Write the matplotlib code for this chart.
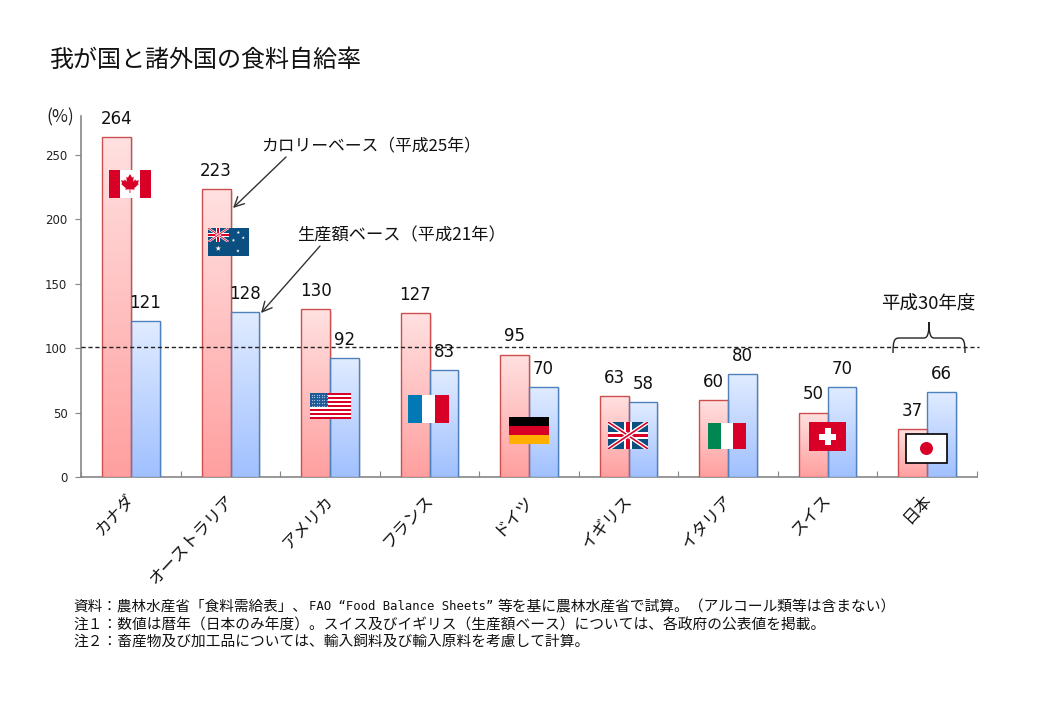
import numpy as np
import matplotlib
matplotlib.use('Agg')
import matplotlib.pyplot as plt
import matplotlib.patches as mpatches
import matplotlib.patheffects as pe
from matplotlib.colors import LinearSegmentedColormap
from matplotlib.path import Path
from matplotlib.transforms import ScaledTranslation

plt.rcParams['font.family'] = ['Noto Sans CJK JP', 'DejaVu Sans']

countries = ['カナダ', 'オーストラリア', 'アメリカ', 'フランス', 'ドイツ', 'イギリス', 'イタリア', 'スイス', '日本']
calorie = [264, 223, 130, 127, 95, 63, 60, 50, 37]
production = [121, 128, 92, 83, 70, 58, 80, 70, 66]
yticks = [0, 50, 100, 150, 200, 250]

title = '我が国と諸外国の食料自給率'
note1a = '資料：農林水産省「食料需給表」、'
note1b = 'FAO “Food Balance Sheets”'
note1c = '等を基に農林水産省で試算。（アルコール類等は含まない）'
note2 = '注１：数値は暦年（日本のみ年度）。スイス及びイギリス（生産額ベース）については、各政府の公表値を掲載。'
note3 = '注２：畜産物及び加工品については、輸入飼料及び輸入原料を考慮して計算。'

RED_EDGE = '#CC4F4D'
BLUE_EDGE = '#4F81BD'
AXIS_GREY = '#868686'
FLAG_RED = '#D80027'
FLAG_BLUE = '#0B4F80'

red_grad = LinearSegmentedColormap.from_list('r', ['#FFE1E1', '#FF9F9F'])
blue_grad = LinearSegmentedColormap.from_list('b', ['#E1ECFF', '#A0C0FF'])
grad = np.linspace(0, 1, 256).reshape(-1, 1)

fig = plt.figure(figsize=(10.4, 7.2), dpi=100)
ax = fig.add_axes([81.3 / 1040, (720 - 477) / 720, 895.5 / 1040, 361 / 720])

width = 0.29


def draw_bars(xs, values, edge, cmap):
    for x, v in zip(xs, values):
        base = ax.bar(x, v, width, facecolor='white', edgecolor='none', zorder=2)[0]
        base.set_path_effects([pe.SimplePatchShadow(offset=(1.5, -1), alpha=0.15, shadow_rgbFace='#555555'), pe.Normal()])
        im = ax.imshow(grad, extent=(x - width / 2, x + width / 2, 0, v), cmap=cmap,
                       aspect='auto', zorder=3, vmin=0, vmax=1, origin='upper')
        im.set_clip_path(base)
        ax.bar(x, v, width, fill=False, edgecolor=edge, linewidth=1.0, zorder=4)
        ax.annotate(str(v), (x, v), xytext=(0, 13), textcoords='offset points', family='DejaVu Sans',
                    ha='center', va='center', fontsize=12, color='#111111', zorder=6)


centers = np.arange(len(countries)) + 0.5
draw_bars(centers - width / 2, calorie, RED_EDGE, red_grad)
draw_bars(centers + width / 2, production, BLUE_EDGE, blue_grad)

ax.set_xlim(0, 9)
ax.set_ylim(0, 280)
ax.spines['top'].set_visible(False)
ax.spines['right'].set_visible(False)
ax.spines['left'].set_color(AXIS_GREY)
ax.spines['bottom'].set_color(AXIS_GREY)
ax.spines['left'].set_linewidth(1.2)
ax.spines['bottom'].set_linewidth(1.2)
ax.set_yticks(yticks)
ax.set_yticklabels([str(t) for t in yticks], family='DejaVu Sans')
ax.tick_params(axis='y', color=AXIS_GREY, length=4, labelsize=8.5, pad=6, labelcolor='#222222')
ax.set_xticks(np.arange(0, 10))
ax.tick_params(axis='x', which='major', direction='in', color=AXIS_GREY, length=4, labelbottom=False)
ax.set_xticks(centers, minor=True)
ax.set_xticklabels(countries, minor=True, rotation=47, ha='right', va='top', rotation_mode='anchor', fontsize=11.9, color='#111111')
ax.tick_params(axis='x', which='minor', length=0, pad=12)
for lab in ax.get_xticklabels(minor=True):
    lab.set_transform(lab.get_transform() + ScaledTranslation(-5 / 100, 2 / 100, fig.dpi_scale_trans))
ax.plot([0, 9.02], [100.5, 100.5], color='#222222', lw=1, ls=(0, (3, 2)), zorder=5, clip_on=False)

# everything else sits on an overlay in pixel coordinates
ov = fig.add_axes([0, 0, 1, 1], zorder=10)
ov.set_xlim(0, 1040)
ov.set_ylim(720, 0)
ov.axis('off')
ov.patch.set_alpha(0)

ov.text(50, 60, title, fontsize=17.3, va='center', ha='left', color='#111111')
ov.text(60, 117, '(%)', fontsize=12.5, va='center', ha='center', color='#222222')
ov.text(261, 146, 'カロリーベース（平成25年）', fontsize=12.1, va='center', ha='left', color='#111111')
ov.text(297, 235, '生産額ベース（平成21年）', fontsize=12.4, va='center', ha='left', color='#111111')
ov.text(928, 304, '平成30年度', fontsize=13.3, va='center', ha='center', color='#111111')

for start, end in [((286, 157), (233, 208)), ((320, 246), (261, 313))]:
    ov.annotate('', xy=end, xytext=start,
                arrowprops=dict(arrowstyle='->,head_length=0.7,head_width=0.35', color='#333333', lw=1, shrinkA=0, shrinkB=0))

# brace over Japan
verts = [(893, 353), (893, 342), (894, 338), (899, 338), (924, 338), (928, 338), (929, 332), (929, 322),
         (929, 332), (930, 338), (934, 338), (959, 338), (964, 338), (965, 342), (965, 353)]
codes = [Path.MOVETO, Path.CURVE4, Path.CURVE4, Path.CURVE4, Path.LINETO, Path.CURVE4, Path.CURVE4, Path.CURVE4,
         Path.CURVE4, Path.CURVE4, Path.CURVE4, Path.LINETO, Path.CURVE4, Path.CURVE4, Path.CURVE4]
ov.add_patch(mpatches.PathPatch(Path(verts, codes), fill=False, edgecolor='#222222', lw=1))

# footnotes
ov.text(73, 607, note1a, fontsize=10.5, va='center', ha='left', color='#111111')
ov.text(309, 607, note1b, fontsize=8.85, va='center', ha='left', color='#111111', family='DejaVu Sans Mono')
ov.text(498, 607, note1c, fontsize=10.67, va='center', ha='left', color='#111111')
ov.text(73, 625, note2, fontsize=10.6, va='center', ha='left', color='#111111')
ov.text(73, 642, note3, fontsize=10.6, va='center', ha='left', color='#111111')


def rect(x0, y0, x1, y1, color):
    ov.add_patch(mpatches.Rectangle((x0, y0), x1 - x0, y1 - y0, facecolor=color, edgecolor='none'))


def union_jack(x0, y0, x1, y1):
    rect(x0, y0, x1, y1, FLAG_BLUE)
    h = y1 - y0
    clip = mpatches.Rectangle((x0, y0), x1 - x0, h, transform=ov.transData)
    for a, b in [((x0, y0), (x1, y1)), ((x0, y1), (x1, y0))]:
        l1, = ov.plot([a[0], b[0]], [a[1], b[1]], color='white', lw=h * 0.16 * 0.72, solid_capstyle='butt')
        l2, = ov.plot([a[0], b[0]], [a[1], b[1]], color=FLAG_RED, lw=h * 0.06 * 0.72, solid_capstyle='butt')
        l1.set_clip_path(clip)
        l2.set_clip_path(clip)
    xm, ym = (x0 + x1) / 2, (y0 + y1) / 2
    rect(xm - 0.14 * h, y0, xm + 0.14 * h, y1, 'white')
    rect(x0, ym - 0.14 * h, x1, ym + 0.14 * h, 'white')
    rect(xm - 0.07 * h, y0, xm + 0.07 * h, y1, FLAG_RED)
    rect(x0, ym - 0.07 * h, x1, ym + 0.07 * h, FLAG_RED)


def canada(x0, y0, x1, y1):
    rect(x0, y0, x1, y1, 'white')
    w = (x1 - x0) / 4
    rect(x0, y0, x0 + w * 1.05, y1, FLAG_RED)
    rect(x1 - w * 1.05, y0, x1, y1, FLAG_RED)
    leaf = [(0, -10), (2, -6.5), (3.5, -7.5), (3, -2.5), (5, -5), (5.5, -3.5), (8.5, -4), (7.5, -1), (8.5, -0.5), (4, 3.5),
            (4.5, 5), (0.4, 4.5), (0.4, 8), (-0.4, 8), (-0.4, 4.5), (-4.5, 5), (-4, 3.5), (-8.5, -0.5), (-7.5, -1), (-8.5, -4),
            (-5.5, -3.5), (-5, -5), (-3, -2.5), (-3.5, -7.5), (-2, -6.5)]
    xm, ym = (x0 + x1) / 2, (y0 + y1) / 2
    ov.add_patch(mpatches.Polygon([(xm + p * 1.05, ym + q * 1.05 + 0.5) for p, q in leaf], facecolor=FLAG_RED, edgecolor='none'))


def australia(x0, y0, x1, y1):
    rect(x0, y0, x1, y1, FLAG_BLUE)
    union_jack(x0, y0, x0 + (x1 - x0) * 0.5, y0 + (y1 - y0) * 0.5)
    sx = [x0 + (x1 - x0) * f for f in [0.74, 0.86, 0.62, 0.73, 0.25]]
    sy = [y0 + (y1 - y0) * f for f in [0.16, 0.35, 0.44, 0.82, 0.73]]
    ov.scatter(sx, sy, s=[7, 6, 7, 7, 18], color='white', marker='*', linewidths=0, zorder=3)


def usa(x0, y0, x1, y1):
    rect(x0, y0, x1, y1, 'white')
    h = (y1 - y0) / 13
    for i in range(0, 13, 2):
        rect(x0, y0 + i * h, x1, y0 + (i + 1) * h, FLAG_RED)
    rect(x0, y0, x0 + (x1 - x0) * 0.45, y0 + 7 * h, '#1F5A96')
    gx = np.linspace(x0 + 1.5, x0 + (x1 - x0) * 0.45 - 1.5, 7)
    gy = np.linspace(y0 + 1.5, y0 + 7 * h - 1.5, 5)
    px, py = np.meshgrid(gx, gy)
    ov.scatter(px.ravel(), py.ravel(), s=0.8, color='#A9C4DF', linewidths=0, zorder=3)


def tricolor(x0, y0, x1, y1, colors):
    w = (x1 - x0) / 3
    for i, c in enumerate(colors):
        rect(x0 + i * w, y0, x0 + (i + 1) * w, y1, c)


def germany(x0, y0, x1, y1):
    h = (y1 - y0) / 3
    for i, c in enumerate(['#000000', FLAG_RED, '#FFAF00']):
        rect(x0, y0 + i * h, x1, y0 + (i + 1) * h, c)


def swiss(x0, y0, x1, y1):
    rect(x0, y0, x1, y1, FLAG_RED)
    xm, ym = (x0 + x1) / 2, (y0 + y1) / 2
    rect(xm - 3, ym - 8.5, xm + 3, ym + 8.5, 'white')
    rect(xm - 8.5, ym - 3, xm + 8.5, ym + 3, 'white')


def japan(x0, y0, x1, y1):
    ov.add_patch(mpatches.Rectangle((x0, y0), x1 - x0, y1 - y0, facecolor='white', edgecolor='black', lw=1.2))
    ov.add_patch(mpatches.Circle(((x0 + x1) / 2, (y0 + y1) / 2), 6.5, facecolor=FLAG_RED, edgecolor='none'))


canada(109, 170, 151, 198)
australia(208, 228, 249, 256)
usa(310, 393, 351, 419)
tricolor(408, 395, 449, 423, ['#0079B5', 'white', FLAG_RED])
germany(509, 417, 549, 444)
union_jack(608, 422, 648, 449)
tricolor(708, 423, 746, 449, ['#008751', 'white', FLAG_RED])
swiss(809, 422, 846, 451)
japan(906, 434, 947, 463)

fig.savefig('out.png', dpi=100)
